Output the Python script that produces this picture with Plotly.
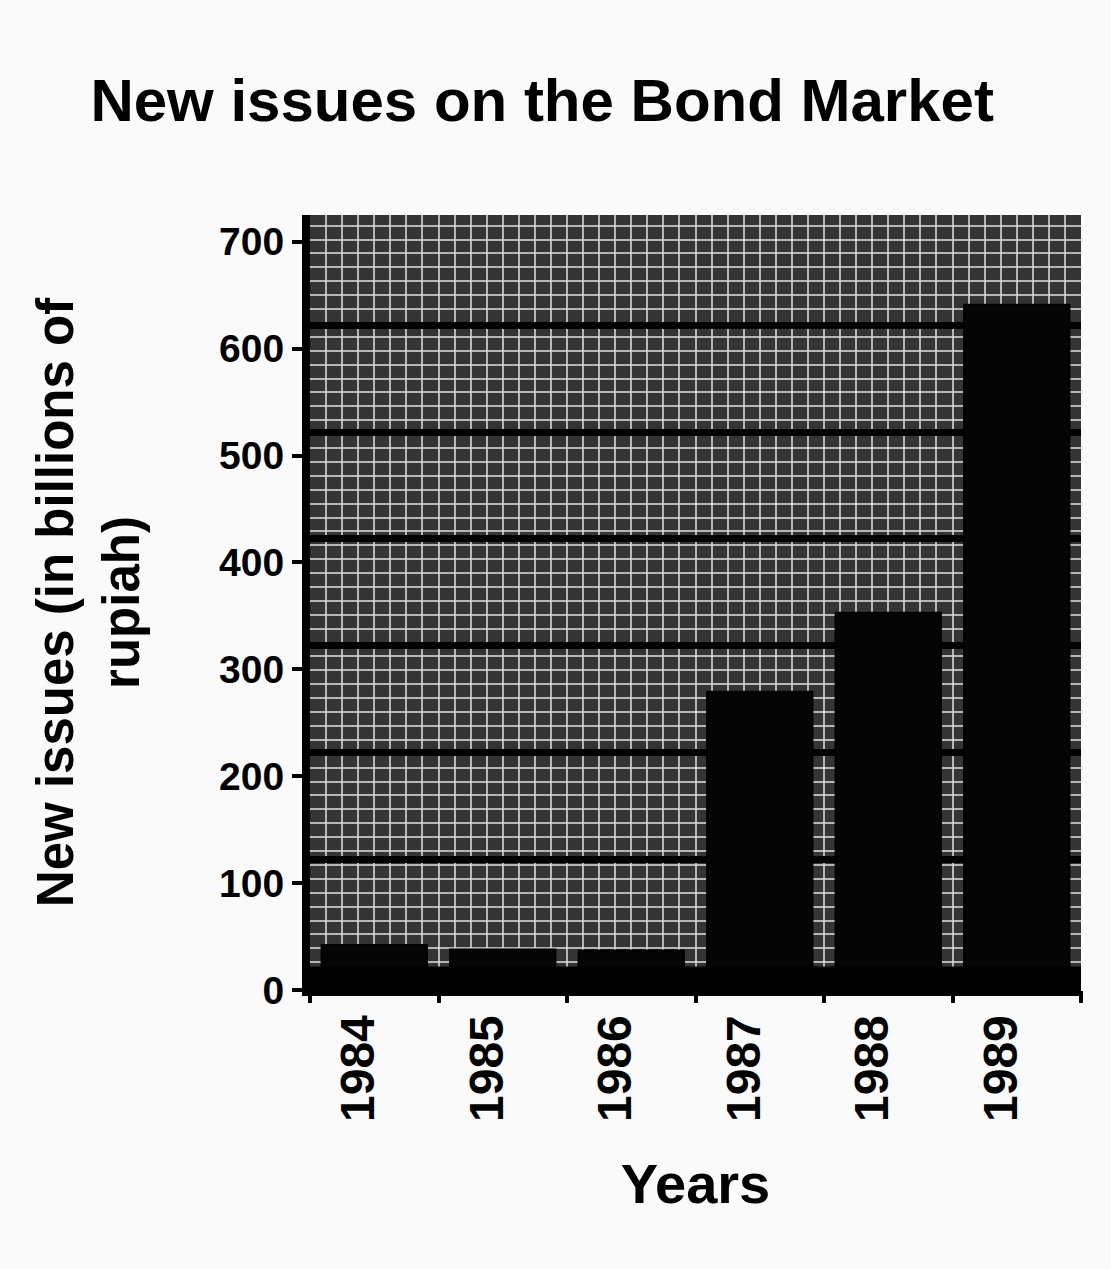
import plotly.graph_objects as go

years = [1984, 1985, 1986, 1987, 1988, 1989]
year_labels = ["1984", "1985", "1986", "1987", "1988", "1989"]
new_issues = [20, 16, 15, 257, 331, 619]
y_ticks = [0, 100, 200, 300, 400, 500, 600, 700]
wall_grid = [100, 200, 300, 400, 500, 600]

DEPTH = 22  # 3-D back-wall offset, in value units
FONT = "Liberation Sans, Arial, sans-serif"
PATTERN = "rgba(215,215,215,0.8)"

fig = go.Figure()
# invisible anchor trace for the main (front) axes
fig.add_trace(go.Scatter(x=[], y=[], xaxis="x", yaxis="y", showlegend=False))
fig.add_trace(go.Bar(
    x=years, y=new_issues, width=0.82,
    marker=dict(color="#050505", line=dict(color="#000000", width=2)),
    xaxis="x2", yaxis="y2", showlegend=False,
))

fig.update_layout(
    width=1111, height=1269,
    paper_bgcolor="#fafafa",
    plot_bgcolor="#343434",
    margin=dict(l=310, r=30, t=215, b=279),
    title=dict(
        text="<b>New issues on the Bond Market</b>",
        x=0.488, xanchor="center", y=0.921, yanchor="middle",
        font=dict(family=FONT, size=60, color="#000000"),
    ),
    xaxis=dict(
        range=[1983.5, 1989.5],
        tickvals=[y - 0.12 for y in years],
        ticktext=["<b>%s</b>" % t for t in year_labels],
        tickangle=-90,
        ticks="",
        tickfont=dict(family=FONT, size=48, color="#000000"),
        showline=True, linecolor="#000000", linewidth=6,
        showgrid=False, zeroline=False,
        minor=dict(dtick=0.125, tick0=1983.5, showgrid=True,
                   gridcolor=PATTERN, gridwidth=1.5, ticks=""),
        title=dict(text="<b>Years</b>", standoff=45,
                   font=dict(family=FONT, size=56, color="#000000")),
    ),
    xaxis2=dict(
        overlaying="x", anchor="y", side="bottom",
        range=[1983.5, 1989.5],
        tickvals=[1983.5 + i for i in range(7)],
        ticktext=[""] * 7,
        ticks="outside", ticklen=12, tickwidth=4, tickcolor="#000000",
        showgrid=False, zeroline=False, showline=False,
    ),
    yaxis=dict(
        range=[0, 725],
        tickvals=y_ticks, ticktext=["<b>%d</b>" % v for v in y_ticks],
        ticks="outside", ticklen=10, tickwidth=4, tickcolor="#000000",
        tickfont=dict(family=FONT, size=39, color="#000000"),
        showline=True, linecolor="#000000", linewidth=8,
        showgrid=False, zeroline=False,
        minor=dict(dtick=13, showgrid=True,
                   gridcolor=PATTERN, gridwidth=1.5, ticks=""),
        title=dict(text="<b>New issues (in billions of<br>rupiah)</b>", standoff=66,
                   font=dict(family=FONT, size=51, color="#000000")),
    ),
    yaxis2=dict(
        overlaying="y", anchor="x", side="left",
        range=[-DEPTH, 725 - DEPTH],
        tickvals=wall_grid, showticklabels=False, ticks="",
        showgrid=True, gridcolor="#000000", gridwidth=7,
        zeroline=False, showline=False,
    ),
    shapes=[dict(
        type="rect", xref="x domain", yref="y2",
        x0=0, x1=1, y0=-DEPTH, y1=0,
        fillcolor="#000000", line=dict(width=0), layer="above",
    )],
)

fig.write_html("out.html")
